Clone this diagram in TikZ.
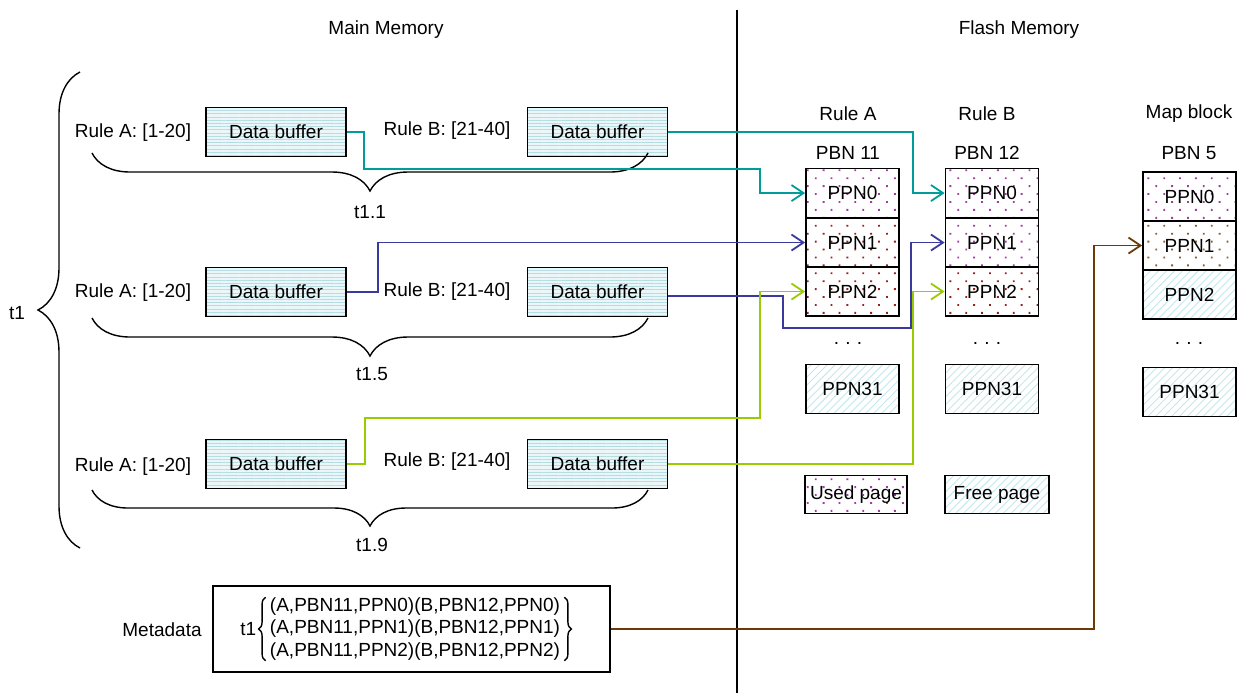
\documentclass[tikz,border=0pt]{standalone}
\usepackage{fontspec}
\setmainfont{Liberation Sans}
\usetikzlibrary{arrows.meta,patterns.meta,decorations.pathreplacing}

\definecolor{bufbg}{HTML}{EAF6F7}
\definecolor{bufline}{HTML}{B3DDE3}
\definecolor{hatchc}{HTML}{C4E7ED}
\definecolor{dotmag}{HTML}{A838A8}
\definecolor{dotred}{HTML}{9A1E1E}
\definecolor{dotbrn}{HTML}{8A5A30}
\definecolor{cteal}{HTML}{009C9C}
\definecolor{cblue}{HTML}{3A3A9E}
\definecolor{cgreen}{HTML}{99CC00}
\definecolor{cbrown}{HTML}{6B3A06}

\begin{document}
\begin{tikzpicture}[x=0.5pt,y=-0.5pt,
  every node/.style={font=\fontsize{9.5}{11.25}\selectfont, inner sep=0pt},
  box/.style={draw, line width=0.9pt},
  buf/.style={box, minimum width=70pt, minimum height=24.5pt,
    preaction={fill=bufbg},
    pattern={Lines[angle=0,distance=1.6pt,line width=0.5pt]}, pattern color=bufline},
  page/.style={box, minimum width=46.5pt, minimum height=24.5pt},
  used/.style={pattern={Dots[angle=45,distance=5.6pt,radius=0.65pt]}, pattern color=#1},
  free/.style={pattern={Lines[angle=45,distance=2.8pt,line width=0.45pt]}, pattern color=hatchc},
  link/.style={line width=0.9pt, -{Straight Barb[length=6pt,width=8pt,line width=0.9pt]}},
  brc/.style={decorate, decoration={brace, amplitude=#1}, line width=0.7pt},
]
\useasboundingbox (0,0) rectangle (1242,693);

% headings and divider
\node (mainmem) at (386,30) {Main Memory};
\node (flashmem) at (1019,30) {Flash Memory};
\coordinate (divtop) at (737,10);
\coordinate (divbot) at (737,693);
\draw[line width=0.7pt] (divtop) -- (divbot);

% main memory rows
\node (ra1) at (133,133) {Rule A: [1-20]};
\node[buf] (a1) at (276,132) {Data buffer};
\node (rb1) at (447,131) {Rule B: [21-40]};
\node[buf] (b1) at (597.5,132) {Data buffer};

\node (ra2) at (133,293) {Rule A: [1-20]};
\node[buf] (a2) at (276,292) {Data buffer};
\node (rb2) at (447,292) {Rule B: [21-40]};
\node[buf] (b2) at (597.5,292) {Data buffer};

\node (ra3) at (133,467) {Rule A: [1-20]};
\node[buf] (a3) at (276,464) {Data buffer};
\node (rb3) at (447,462) {Rule B: [21-40]};
\node[buf] (b3) at (597.5,464) {Data buffer};

% time braces
\draw[brc=19pt] (648,153) -- (92,153);
\node (t11) at (370,212) {t1.1};
\draw[brc=19pt] (648,318) -- (92,318);
\node (t15) at (372,374) {t1.5};
\draw[brc=18pt] (648,490) -- (92,490);
\node (t19) at (372,545) {t1.9};
\draw[brc=21pt] (80,548) -- (80,72);
\node (t1) at (17,313) {t1};

% flash columns
\node (rA) at (848,114) {Rule A};
\node (pA) at (848,153) {PBN 11};
\node (rB) at (987,114) {Rule B};
\node (pB) at (987,153) {PBN 12};
\node (rM) at (1189,114) {Map block};
\node (pM) at (1189,153) {PBN 5};

\node[page, used=dotmag] (A0) at (852.5,193) {PPN0};
\node[page, used=dotred] (A1) at (852.5,242.5) {PPN1};
\node[page, used=dotred] (A2) at (852.5,291.5) {PPN2};
\node (eA) at (848,343) {.\,\,.\,\,.};
\node[page, free] (A31) at (852.5,389) {PPN31};

\node[page, used=dotmag] (B0) at (992,193) {PPN0};
\node[page, used=dotmag] (B1) at (992,242.5) {PPN1};
\node[page, used=dotred] (B2) at (992,291.5) {PPN2};
\node (eB) at (987,343) {.\,\,.\,\,.};
\node[page, free] (B31) at (992,389) {PPN31};

\node[page, used=dotmag] (M0) at (1189.5,196.5) {PPN0};
\node[page, used=dotbrn] (M1) at (1189.5,245.5) {PPN1};
\node[page, free] (M2) at (1189.5,294.5) {PPN2};
\node (eM) at (1189,343) {.\,\,.\,\,.};
\node[page, free] (M31) at (1189.5,392) {PPN31};

% legend
\node[page, used=dotmag, minimum width=51pt, minimum height=19pt] (usedp) at (856,494.5) {Used page};
\node[page, free, minimum width=52pt, minimum height=19pt] (freep) at (997,494.5) {Free page};

% metadata
\node (metalbl) at (162,630) {Metadata};
\node[box, minimum width=198.5pt, minimum height=43pt] (meta) at (411.5,629) {};
\node[align=center] (lines) at (415,629) {(A,PBN11,PPN0)(B,PBN12,PPN0)\\(A,PBN11,PPN1)(B,PBN12,PPN1)\\(A,PBN11,PPN2)(B,PBN12,PPN2)};
\draw[brc=3.5pt] ([xshift=-2pt]lines.south west) -- ([xshift=-2pt]lines.north west);
\draw[brc=3.5pt] ([xshift=2pt]lines.north east) -- ([xshift=2pt]lines.south east);
\node[anchor=east] (t1m) at ([xshift=-6.5pt]lines.west) {t1};

% connectors
\draw[link, cteal] (a1.east) -- (364,132) -- (364,169) -- (760,169) |- (A0.west);
\draw[link, cteal] (b1.east) -- (913,132) |- (B0.west);
\draw[link, cblue] (a2.east) -- (378,292) |- (A1.west);
\draw[link, cblue] ([yshift=-2pt]b2.east) -- (783,296) -- (783,328) -- (911,328) |- (B1.west);
\draw[link, cgreen] (a3.east) -- (365,464) -- (365,418) -- (760,418) |- (A2.west);
\draw[link, cgreen] (b3.east) -- (913,464) |- (B2.west);
\draw[link, cbrown] (meta.east) -- (1094,629) |- (M1.west);
\end{tikzpicture}
\end{document}
